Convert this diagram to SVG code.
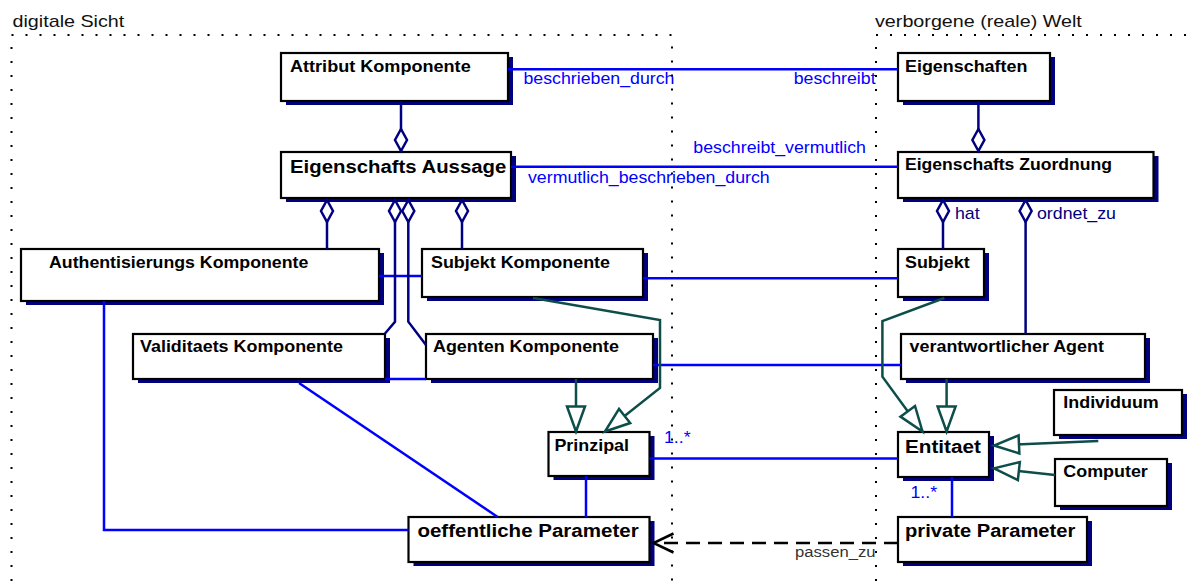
<svg xmlns="http://www.w3.org/2000/svg" xmlns:xlink="http://www.w3.org/1999/xlink" width="1192" height="581" viewBox="0 0 1192 581">
  <style>
    text { font-family: "Liberation Sans", Arial, sans-serif; }
    .title { font-size: 17px; fill: #111; }
    .nb { font-size: 16px; font-weight: bold; fill: #000; }
    .nbig { font-size: 18.5px; font-weight: bold; fill: #000; }
    .lbl { font-size: 16px; fill: #0000ff; }
    .lnav { font-size: 16px; fill: #000080; }
    .lgray { font-size: 15px; fill: #333; }
    .frame { fill: none; stroke: #000; stroke-width: 2; stroke-dasharray: 2 12; }
    .shadow { fill: #000080; }
    .box { fill: #fff; stroke: #000; stroke-width: 2.2; }
    .assoc { fill: none; stroke: #0000ff; stroke-width: 2.5; }
    .aggr { fill: none; stroke: #000080; stroke-width: 2.5; marker-start: url(#diamond); }
    .gen { fill: none; stroke: #0d4d4a; stroke-width: 2.5; marker-end: url(#hollow); }
    .dep { fill: none; stroke: #000; stroke-width: 2.5; stroke-dasharray: 14 8; marker-end: url(#open); }
  </style>
  <defs>
    <marker id="diamond" markerUnits="userSpaceOnUse" orient="auto" refX="0" refY="0" markerWidth="30" markerHeight="20" viewBox="-2 -10 28 20" overflow="visible">
      <path d="M0,0 L11,-6 L22,0 L11,6 Z" fill="#fff" stroke="#000080" stroke-width="2.5"/>
    </marker>
    <marker id="hollow" markerUnits="userSpaceOnUse" orient="auto" refX="0" refY="0" markerWidth="30" markerHeight="24" viewBox="-28 -12 30 24" overflow="visible">
      <path d="M0,0 L-25,-9 L-25,9 Z" fill="#fff" stroke="#0d4d4a" stroke-width="2.5" stroke-dasharray="none"/>
    </marker>
    <marker id="open" markerUnits="userSpaceOnUse" orient="auto" refX="0" refY="0" markerWidth="24" markerHeight="24" viewBox="-22 -12 24 24" overflow="visible">
      <path d="M-20,-9.5 L0,0 L-20,9.5" fill="none" stroke="#000" stroke-width="2.5" stroke-dasharray="none"/>
    </marker>
  </defs>

  <rect width="1192" height="581" fill="#fff"/>

  <!-- package frames -->
  <g id="frames">
    <path class="frame" d="M11.5,581 V35 H672 V581"/>
    <path class="frame" d="M876,581 V35 H1192"/>
    <text class="title" transform="matrix(1.16 0 0 1 12.5 27.3)">digitale Sicht</text>
    <text class="title" transform="matrix(1.16 0 0 1 875 27.3)">verborgene (reale) Welt</text>
  </g>

  <!-- classes -->
  <g id="attribut-komponente">
    <rect class="shadow" x="286" y="57" width="227" height="48"/>
    <rect class="box" x="281" y="53" width="227" height="48"/>
    <text class="nb" transform="matrix(1.13 0 0 1 290 72.3)">Attribut Komponente</text>
  </g>
  <g id="eigenschafts-aussage">
    <rect class="shadow" x="286" y="156" width="230" height="46"/>
    <rect class="box" x="281" y="152" width="230" height="46"/>
    <text class="nbig" transform="matrix(1.1 0 0 1 290 172.7)">Eigenschafts Aussage</text>
  </g>
  <g id="eigenschaften">
    <rect class="shadow" x="903" y="57" width="152" height="48"/>
    <rect class="box" x="898" y="53" width="152" height="48"/>
    <text class="nb" transform="matrix(1.12 0 0 1 905 71.7)">Eigenschaften</text>
  </g>
  <g id="eigenschafts-zuordnung">
    <rect class="shadow" x="903" y="156" width="255.5" height="46"/>
    <rect class="box" x="898" y="152" width="255.5" height="46"/>
    <text class="nb" transform="matrix(1.1 0 0 1 905 170)">Eigenschafts Zuordnung</text>
  </g>
  <g id="authentisierungs-komponente">
    <rect class="shadow" x="26" y="253" width="358" height="52"/>
    <rect class="box" x="21" y="249" width="358" height="52"/>
    <text class="nb" transform="matrix(1.11 0 0 1 49 267.7)">Authentisierungs Komponente</text>
  </g>
  <g id="subjekt-komponente">
    <rect class="shadow" x="427" y="253" width="221" height="48"/>
    <rect class="box" x="422" y="249" width="221" height="48"/>
    <text class="nb" transform="matrix(1.12 0 0 1 431 267.7)">Subjekt Komponente</text>
  </g>
  <g id="subjekt">
    <rect class="shadow" x="903" y="253" width="86" height="48"/>
    <rect class="box" x="898" y="249" width="86" height="48"/>
    <text class="nb" transform="matrix(1.12 0 0 1 905 267.7)">Subjekt</text>
  </g>
  <g id="validitaets-komponente">
    <rect class="shadow" x="138" y="338" width="252" height="45"/>
    <rect class="box" x="133" y="334" width="252" height="45"/>
    <text class="nb" transform="matrix(1.12 0 0 1 140 352.3)">Validitaets Komponente</text>
  </g>
  <g id="agenten-komponente">
    <rect class="shadow" x="431" y="338" width="227" height="45"/>
    <rect class="box" x="426" y="334" width="227" height="45"/>
    <text class="nb" transform="matrix(1.12 0 0 1 433 352.3)">Agenten Komponente</text>
  </g>
  <g id="verantwortlicher-agent">
    <rect class="shadow" x="906" y="338" width="244" height="45"/>
    <rect class="box" x="901" y="334" width="244" height="45"/>
    <text class="nb" transform="matrix(1.12 0 0 1 909.6 352.3)">verantwortlicher Agent</text>
  </g>
  <g id="prinzipal">
    <rect class="shadow" x="553.5" y="436" width="101" height="44"/>
    <rect class="box" x="548.5" y="432" width="101" height="44"/>
    <text class="nb" transform="matrix(1.12 0 0 1 554.4 450.7)">Prinzipal</text>
  </g>
  <g id="entitaet">
    <rect class="shadow" x="903" y="436" width="91" height="45"/>
    <rect class="box" x="898" y="432" width="91" height="45"/>
    <text class="nbig" transform="matrix(1.12 0 0 1 905 452.7)">Entitaet</text>
  </g>
  <g id="individuum">
    <rect class="shadow" x="1059" y="394" width="128" height="45"/>
    <rect class="box" x="1054" y="390" width="128" height="45"/>
    <text class="nb" transform="matrix(1.12 0 0 1 1063.3 407.5)">Individuum</text>
  </g>
  <g id="computer">
    <rect class="shadow" x="1060" y="463" width="112" height="47"/>
    <rect class="box" x="1055" y="459" width="112" height="47"/>
    <text class="nb" transform="matrix(1.12 0 0 1 1063.3 476.7)">Computer</text>
  </g>
  <g id="oeffentliche-parameter">
    <rect class="shadow" x="413.5" y="521" width="241" height="45"/>
    <rect class="box" x="408.5" y="517" width="241" height="45"/>
    <text class="nbig" transform="matrix(1.11 0 0 1 417.4 537.3)">oeffentliche Parameter</text>
  </g>
  <g id="private-parameter">
    <rect class="shadow" x="903" y="521" width="189" height="45"/>
    <rect class="box" x="898" y="517" width="189" height="45"/>
    <text class="nbig" transform="matrix(1.09 0 0 1 905 536.7)">private Parameter</text>
  </g>

  <!-- relationships -->
  <g id="connectors">
    <!-- associations -->
    <path class="assoc" d="M508,69.3 H898"/>
    <path class="assoc" d="M511,166.7 H898"/>
    <path class="assoc" d="M379,276 H422"/>
    <path class="assoc" d="M643,278.3 H898"/>
    <path class="assoc" d="M385,379 H426"/>
    <path class="assoc" d="M653,365 H901"/>
    <path class="assoc" d="M104,301 V530 H408.5"/>
    <path class="assoc" d="M299,383 L497.7,517"/>
    <path class="assoc" d="M586,476 V517"/>
    <path class="assoc" d="M649.5,458.5 H898"/>
    <path class="assoc" d="M952,477 V517"/>

    <!-- aggregations -->
    <path class="aggr" d="M401,151 V101"/>
    <path class="aggr" d="M978.4,151 V101"/>
    <path class="aggr" d="M327,200 V249"/>
    <path class="aggr" d="M395,200 V321.7 L385,333.5"/>
    <path class="aggr" d="M408.3,200 V321.7 L426,345"/>
    <path class="aggr" d="M462,200 V249"/>
    <path class="aggr" d="M943,200 V249"/>
    <path class="aggr" d="M1025.6,200 V334"/>

    <!-- generalizations -->
    <path class="gen" d="M533,298 L660,320 V388 L605,431.5"/>
    <path class="gen" d="M576,379 V431.5"/>
    <path class="gen" d="M944.4,298 L882.4,321 V376.7 L922.5,431.5"/>
    <path class="gen" d="M946.6,379 V431.5"/>
    <path class="gen" d="M1098.3,441 L994,445.5"/>
    <path class="gen" d="M1055,475 L994,468.3"/>

    <!-- dependency -->
    <path class="dep" d="M898,543 H653.5"/>

    <!-- role and multiplicity labels -->
    <text class="lbl" transform="matrix(1.11 0 0 1 523.5 84)">beschrieben_durch</text>
    <text class="lbl" text-anchor="end" transform="matrix(1.11 0 0 1 875.6 84)">beschreibt</text>
    <text class="lbl" text-anchor="end" transform="matrix(1.11 0 0 1 866 153.3)">beschreibt_vermutlich</text>
    <text class="lbl" transform="matrix(1.11 0 0 1 528 182.7)">vermutlich_beschrieben_durch</text>
    <text class="lnav" transform="matrix(1.11 0 0 1 955 219.3)">hat</text>
    <text class="lnav" transform="matrix(1.11 0 0 1 1037 219.3)">ordnet_zu</text>
    <text class="lbl" transform="matrix(1.11 0 0 1 664 442.7)">1..*</text>
    <text class="lbl" transform="matrix(1.11 0 0 1 910.4 498.3)">1..*</text>
    <text class="lgray" transform="matrix(1.11 0 0 1 795 556.7)">passen_zu</text>
  </g>
</svg>
